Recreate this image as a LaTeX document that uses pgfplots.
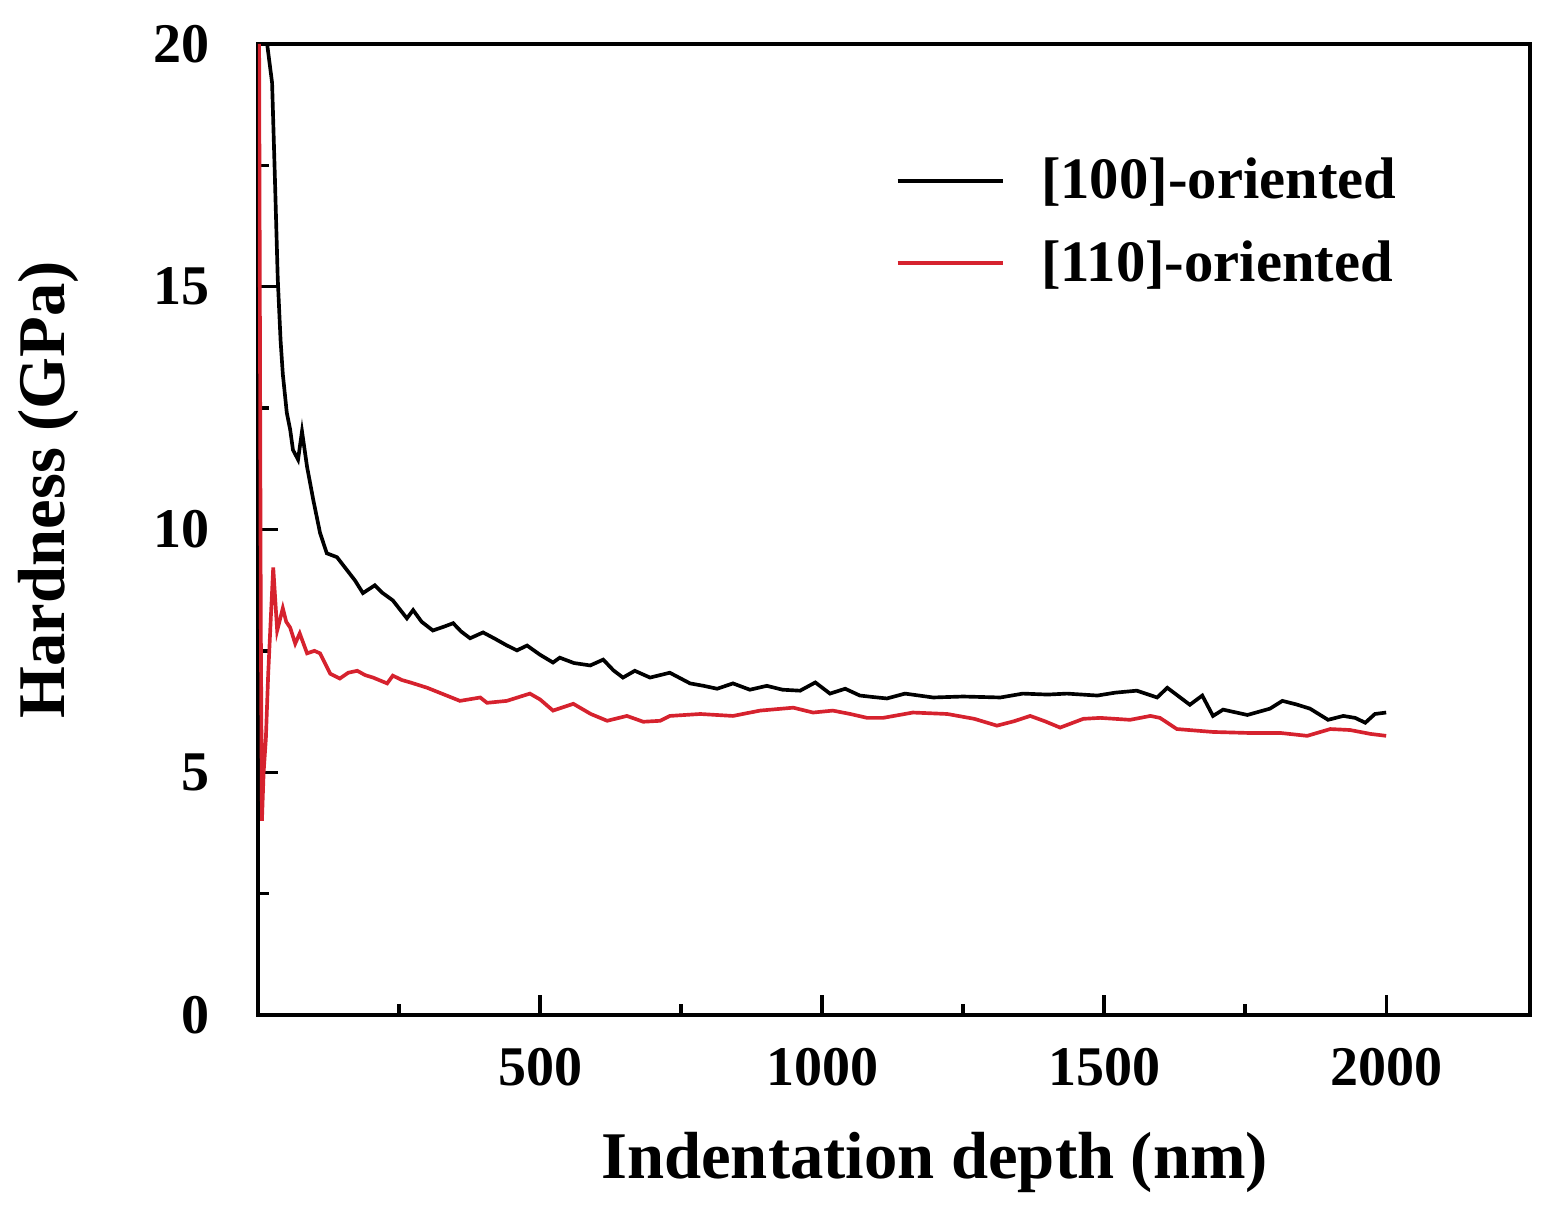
\documentclass[border=0pt]{standalone}
\usepackage{pgfplots}
\pgfplotsset{compat=1.18}
\usepackage{fontspec}
\setmainfont{Liberation Serif}
\definecolor{myred}{RGB}{214,34,46}
\begin{document}
\begin{tikzpicture}
\path (-77.4pt,-59.7pt) rectangle (390.6pt,304.5pt);
\begin{axis}[
  scale only axis,
  width=381.6pt, height=291.3pt,
  xmin=0, xmax=2255, ymin=0, ymax=20,
  axis line style={line width=1.2pt},
  xtick={500,1000,1500,2000},
  minor xtick={250,750,1250,1750},
  ytick={0,5,10,15,20},
  minor ytick={2.5,7.5,12.5,17.5},
  tick align=inside,
  xtick pos=bottom, ytick pos=left,
  major tick length=6pt, minor tick length=3.3pt,
  every tick/.style={line width=1pt, black},
  /pgf/number format/assume math mode=true,
  /pgf/number format/1000 sep={},
  ticklabel style={font=\fontsize{16.8}{18}\selectfont\bfseries},
  xticklabel style={yshift=-6.5pt},
  yticklabel style={xshift=-11pt},
  xlabel={Indentation depth (nm)},
  ylabel={Hardness (GPa)},
  label style={font=\fontsize{20}{24}\selectfont\bfseries},
  xlabel style={at={(axis description cs:0.532,-0.1514)}, anchor=center},
  ylabel style={at={(axis description cs:-0.165,0.541)}, anchor=center},
  legend style={at={(axis description cs:0.493,0.897)}, anchor=north west, draw=none, fill=none,
    font=\fontsize{17.6}{20}\selectfont\bfseries, row sep=7pt, column sep=9pt,
    nodes={inner sep=2pt}},
  legend cell align=left,
  legend image code/.code={\draw[#1] (0pt,0pt) -- (31.5pt,0pt);},
  clip=true,
]
\addplot[black, line width=1.1pt] coordinates {
(14,20.2) (25,19.2) (30,17.23) (35,15.17) (40,13.9) (44,13.2) (51,12.41) (57,12.06) (62,11.64) (71,11.44)
(78,12.02) (87,11.29) (98,10.61) (110,9.93) (122,9.51) (140,9.43) (158,9.16) (172,8.95) (186,8.69)
(207,8.85) (220,8.7) (239,8.54) (264,8.17) (275,8.34) (290,8.1) (310,7.92) (330,8.0) (346,8.07) (360,7.9)
(376,7.76) (399,7.88) (420,7.75) (440,7.62) (459,7.51) (477,7.61) (500,7.42) (523,7.26) (535,7.36)
(560,7.25) (589,7.20) (612,7.32) (630,7.1) (647,6.95) (668,7.09) (695,6.95) (730,7.05) (766,6.83)
(790,6.78) (814,6.72) (842,6.83) (872,6.70) (902,6.78) (930,6.7) (961,6.68) (988,6.85) (1014,6.62)
(1041,6.72) (1067,6.58) (1090,6.55) (1115,6.52) (1147,6.62) (1197,6.54) (1250,6.56) (1316,6.54)
(1356,6.62) (1400,6.6) (1434,6.62) (1488,6.58) (1520,6.64) (1558,6.68) (1594,6.54) (1612,6.74)
(1652,6.39) (1674,6.58) (1693,6.16) (1711,6.29) (1754,6.18) (1794,6.31) (1816,6.47) (1840,6.4)
(1865,6.31) (1897,6.08) (1924,6.16) (1945,6.12) (1963,6.02) (1980,6.20) (2000,6.23)
};
\addlegendentry{[100]-oriented}
\addplot[myred, line width=1.1pt] coordinates {
(2,20) (3,16) (4,12) (5,8) (7,4.0) (10,5.0) (14,5.7) (18,7.0) (22,8.0) (27,9.22) (34,7.92) (44,8.38)
(50,8.1) (57,7.98) (66,7.65) (74,7.86) (87,7.45) (100,7.5) (110,7.45) (128,7.03) (145,6.93) (160,7.05)
(176,7.09) (190,7.0) (204,6.95) (229,6.83) (239,6.99) (255,6.9) (270,6.85) (300,6.74) (330,6.6)
(358,6.47) (394,6.54) (406,6.43) (441,6.47) (482,6.62) (500,6.5) (523,6.27) (559,6.41) (590,6.2)
(619,6.06) (654,6.16) (683,6.04) (713,6.06) (730,6.16) (784,6.20) (842,6.16) (890,6.27) (949,6.33)
(984,6.23) (1019,6.27) (1050,6.2) (1080,6.12) (1108,6.12) (1161,6.23) (1222,6.20) (1270,6.1)
(1310,5.96) (1340,6.05) (1369,6.16) (1395,6.05) (1422,5.92) (1463,6.10) (1493,6.12) (1546,6.08)
(1582,6.16) (1599,6.12) (1629,5.89) (1693,5.83) (1754,5.81) (1812,5.81) (1860,5.75) (1901,5.89)
(1936,5.87) (1972,5.79) (2000,5.75)
};
\addlegendentry{[110]-oriented}
\end{axis}
\end{tikzpicture}
\end{document}
